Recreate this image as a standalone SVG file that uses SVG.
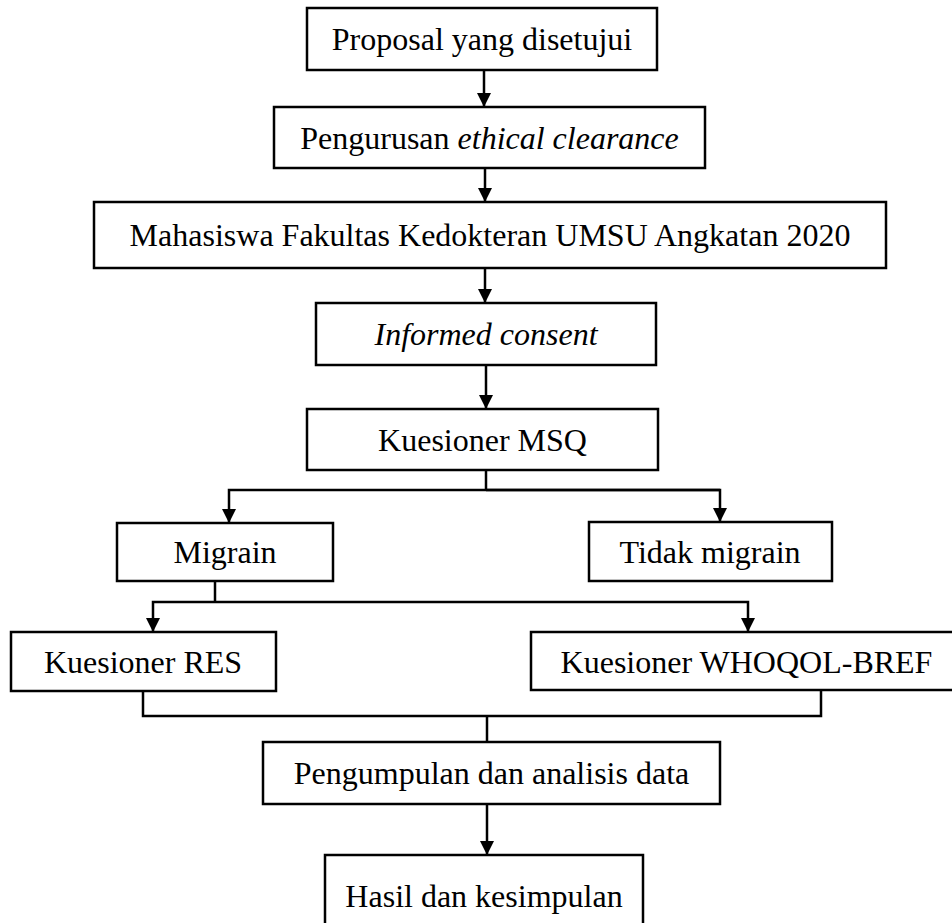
<svg xmlns="http://www.w3.org/2000/svg" width="952" height="923" viewBox="0 0 952 923">
<style>
.box{fill:#fff;stroke:#000;stroke-width:2.5}
.t{font-family:"Liberation Serif","Times New Roman",serif;font-size:32px;fill:#000;text-anchor:middle}
.i{font-style:italic}
.c{fill:none;stroke:#000;stroke-width:2.5}
</style>
<defs>
<marker id="ah" viewBox="0 0 14 14" refX="14" refY="7" markerWidth="14" markerHeight="14" markerUnits="userSpaceOnUse" orient="auto">
<path d="M0,0 L14,7 L0,14 Z" fill="#000"/>
</marker>
</defs>
<rect width="952" height="923" fill="#fff"/>
<g id="connectors">
<path class="c" d="M484,70 V107" marker-end="url(#ah)"/>
<path class="c" d="M485,168 V202" marker-end="url(#ah)"/>
<path class="c" d="M485,268 V303" marker-end="url(#ah)"/>
<path class="c" d="M486,365 V409" marker-end="url(#ah)"/>
<path class="c" d="M486,470 V490"/>
<path class="c" d="M720,490 H229 V523" marker-end="url(#ah)"/>
<path class="c" d="M486,490 H720 V522" marker-end="url(#ah)"/>
<path class="c" d="M215,581 V602"/>
<path class="c" d="M215,602 H153 V632" marker-end="url(#ah)"/>
<path class="c" d="M215,602 H748 V632" marker-end="url(#ah)"/>
<path class="c" d="M143,691 V716 H821 V690"/>
<path class="c" d="M487,716 V742"/>
<path class="c" d="M487,804 V855" marker-end="url(#ah)"/>
</g>
<g id="n1"><rect class="box" x="307" y="8" width="350" height="62"/><text class="t" x="482" y="50">Proposal yang disetujui</text></g>
<g id="n2"><rect class="box" x="274" y="107" width="431" height="61"/><text class="t" x="489.5" y="149">Pengurusan <tspan class="i">ethical clearance</tspan></text></g>
<g id="n3"><rect class="box" x="94" y="202" width="792" height="66"/><text class="t" x="490" y="246">Mahasiswa Fakultas Kedokteran UMSU Angkatan 2020</text></g>
<g id="n4"><rect class="box" x="316" y="303" width="340" height="62"/><text class="t i" x="486" y="345">Informed consent</text></g>
<g id="n5"><rect class="box" x="307" y="409" width="351" height="61"/><text class="t" x="482.5" y="451">Kuesioner MSQ</text></g>
<g id="n6"><rect class="box" x="117" y="523" width="216" height="58"/><text class="t" x="225" y="563">Migrain</text></g>
<g id="n7"><rect class="box" x="589" y="522" width="243" height="59"/><text class="t" x="710" y="563">Tidak migrain</text></g>
<g id="n8"><rect class="box" x="11" y="632" width="265" height="59"/><text class="t" x="143" y="673">Kuesioner RES</text></g>
<g id="n9"><rect class="box" x="531" y="632" width="430" height="58"/><text class="t" x="746.5" y="673">Kuesioner WHOQOL-BREF</text></g>
<g id="n10"><rect class="box" x="263" y="742" width="457" height="62"/><text class="t" x="491.5" y="784">Pengumpulan dan analisis data</text></g>
<g id="n11"><rect class="box" x="325" y="855" width="318" height="85"/><text class="t" x="484" y="907">Hasil dan kesimpulan</text></g>
</svg>
